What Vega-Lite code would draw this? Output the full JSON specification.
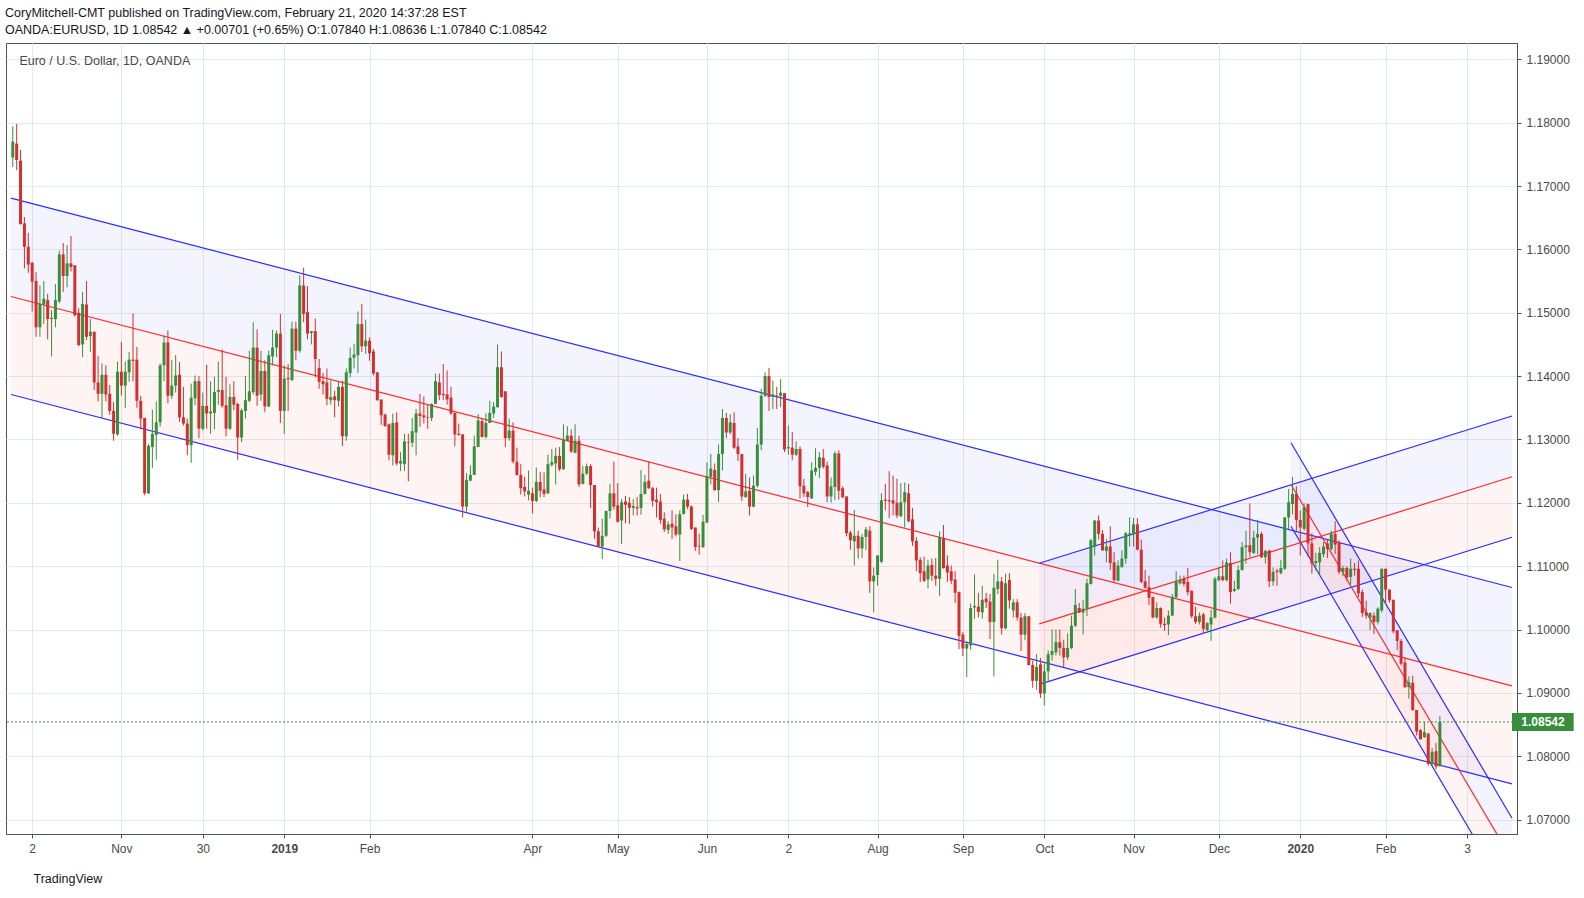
{
  "$schema": "https://vega.github.io/schema/vega-lite/v6.json",
  "width": 1511,
  "height": 791,
  "autosize": "none",
  "padding": {"left": 6, "top": 43, "right": 67, "bottom": 64},
  "background": "white",
  "title": {
    "text": "CoryMitchell-CMT published on TradingView.com, February 21, 2020 14:37:28 EST",
    "subtitle": "OANDA:EURUSD, 1D  1.08542 ▲ +0.00701 (+0.65%)  O:1.07840  H:1.08636  L:1.07840  C:1.08542",
    "anchor": "start",
    "frame": "group",
    "font": "Liberation Sans",
    "fontSize": 12.5,
    "fontWeight": "normal",
    "color": "#131722",
    "subtitleFont": "Liberation Sans",
    "subtitleFontSize": 12.5,
    "subtitleColor": "#131722",
    "subtitlePadding": 4,
    "offset": 7,
    "dx": -1
  },
  "datasets": {
    "candles": [
      {"i":0,"o":1.1745,"h":1.1794,"l":1.1730,"c":1.1770},
      {"i":1,"o":1.1767,"h":1.1798,"l":1.1725,"c":1.1741},
      {"i":2,"o":1.1740,"h":1.1757,"l":1.1639,"c":1.1640},
      {"i":3,"o":1.1641,"h":1.1651,"l":1.1570,"c":1.1604},
      {"i":4,"o":1.1604,"h":1.1626,"l":1.1563,"c":1.1576},
      {"i":5,"o":1.1579,"h":1.1580,"l":1.1502,"c":1.1549},
      {"i":6,"o":1.1550,"h":1.1564,"l":1.1462,"c":1.1477},
      {"i":7,"o":1.1477,"h":1.1543,"l":1.1462,"c":1.1514},
      {"i":8,"o":1.1513,"h":1.1550,"l":1.1482,"c":1.1522},
      {"i":9,"o":1.1520,"h":1.1530,"l":1.1458,"c":1.1490},
      {"i":10,"o":1.1490,"h":1.1504,"l":1.1431,"c":1.1492},
      {"i":11,"o":1.1490,"h":1.1545,"l":1.1477,"c":1.1520},
      {"i":12,"o":1.1518,"h":1.1598,"l":1.1515,"c":1.1592},
      {"i":13,"o":1.1592,"h":1.1610,"l":1.1533,"c":1.1558},
      {"i":14,"o":1.1558,"h":1.1607,"l":1.1540,"c":1.1578},
      {"i":15,"o":1.1578,"h":1.1621,"l":1.1565,"c":1.1572},
      {"i":16,"o":1.1575,"h":1.1575,"l":1.1494,"c":1.1496},
      {"i":17,"o":1.1500,"h":1.1507,"l":1.1447,"c":1.1449},
      {"i":18,"o":1.1450,"h":1.1533,"l":1.1430,"c":1.1514},
      {"i":19,"o":1.1513,"h":1.1550,"l":1.1457,"c":1.1462},
      {"i":20,"o":1.1463,"h":1.1490,"l":1.1438,"c":1.1470},
      {"i":21,"o":1.1470,"h":1.1470,"l":1.1378,"c":1.1390},
      {"i":22,"o":1.1390,"h":1.1432,"l":1.1360,"c":1.1372},
      {"i":23,"o":1.1372,"h":1.1420,"l":1.1334,"c":1.1402},
      {"i":24,"o":1.1402,"h":1.1417,"l":1.1360,"c":1.1371},
      {"i":25,"o":1.1372,"h":1.1386,"l":1.1339,"c":1.1345},
      {"i":26,"o":1.1345,"h":1.1359,"l":1.1298,"c":1.1309},
      {"i":27,"o":1.1308,"h":1.1423,"l":1.1306,"c":1.1407},
      {"i":28,"o":1.1407,"h":1.1454,"l":1.1369,"c":1.1385},
      {"i":29,"o":1.1385,"h":1.1423,"l":1.1350,"c":1.1407},
      {"i":30,"o":1.1406,"h":1.1438,"l":1.1391,"c":1.1426},
      {"i":31,"o":1.1426,"h":1.1499,"l":1.1392,"c":1.1424},
      {"i":32,"o":1.1426,"h":1.1446,"l":1.1350,"c":1.1361},
      {"i":33,"o":1.1361,"h":1.1369,"l":1.1316,"c":1.1333},
      {"i":34,"o":1.1334,"h":1.1334,"l":1.1212,"c":1.1215},
      {"i":35,"o":1.1215,"h":1.1293,"l":1.1214,"c":1.1290},
      {"i":36,"o":1.1288,"h":1.1347,"l":1.1255,"c":1.1309},
      {"i":37,"o":1.1307,"h":1.1360,"l":1.1268,"c":1.1327},
      {"i":38,"o":1.1327,"h":1.1420,"l":1.1320,"c":1.1417},
      {"i":39,"o":1.1417,"h":1.1464,"l":1.1392,"c":1.1453},
      {"i":40,"o":1.1453,"h":1.1472,"l":1.1357,"c":1.1369},
      {"i":41,"o":1.1369,"h":1.1425,"l":1.1364,"c":1.1385},
      {"i":42,"o":1.1385,"h":1.1433,"l":1.1374,"c":1.1401},
      {"i":43,"o":1.1402,"h":1.1422,"l":1.1328,"c":1.1335},
      {"i":44,"o":1.1335,"h":1.1383,"l":1.1322,"c":1.1325},
      {"i":45,"o":1.1325,"h":1.1333,"l":1.1275,"c":1.1291},
      {"i":46,"o":1.1291,"h":1.1388,"l":1.1263,"c":1.1366},
      {"i":47,"o":1.1365,"h":1.1401,"l":1.1354,"c":1.1392},
      {"i":48,"o":1.1392,"h":1.1400,"l":1.1302,"c":1.1317},
      {"i":49,"o":1.1317,"h":1.1374,"l":1.1314,"c":1.1353},
      {"i":50,"o":1.1353,"h":1.1418,"l":1.1317,"c":1.1341},
      {"i":51,"o":1.1341,"h":1.1392,"l":1.1309,"c":1.1344},
      {"i":52,"o":1.1342,"h":1.1399,"l":1.1316,"c":1.1375},
      {"i":53,"o":1.1375,"h":1.1423,"l":1.1355,"c":1.1378},
      {"i":54,"o":1.1378,"h":1.1442,"l":1.1350,"c":1.1353},
      {"i":55,"o":1.1354,"h":1.1399,"l":1.1305,"c":1.1317},
      {"i":56,"o":1.1317,"h":1.1387,"l":1.1315,"c":1.1367},
      {"i":57,"o":1.1367,"h":1.1392,"l":1.1346,"c":1.1355},
      {"i":58,"o":1.1356,"h":1.1358,"l":1.1268,"c":1.1303},
      {"i":59,"o":1.1303,"h":1.1349,"l":1.1296,"c":1.1346},
      {"i":60,"o":1.1345,"h":1.1400,"l":1.1333,"c":1.1362},
      {"i":61,"o":1.1361,"h":1.1440,"l":1.1359,"c":1.1376},
      {"i":62,"o":1.1375,"h":1.1485,"l":1.1371,"c":1.1445},
      {"i":63,"o":1.1445,"h":1.1474,"l":1.1353,"c":1.1369},
      {"i":64,"o":1.1371,"h":1.1440,"l":1.1361,"c":1.1408},
      {"i":65,"o":1.1408,"h":1.1425,"l":1.1343,"c":1.1352},
      {"i":66,"o":1.1352,"h":1.1440,"l":1.1351,"c":1.1433},
      {"i":67,"o":1.1431,"h":1.1473,"l":1.1417,"c":1.1445},
      {"i":68,"o":1.1445,"h":1.1472,"l":1.1430,"c":1.1467},
      {"i":69,"o":1.1467,"h":1.1498,"l":1.1326,"c":1.1345},
      {"i":70,"o":1.1345,"h":1.1417,"l":1.1309,"c":1.1396},
      {"i":71,"o":1.1397,"h":1.1419,"l":1.1345,"c":1.1395},
      {"i":72,"o":1.1394,"h":1.1486,"l":1.1392,"c":1.1475},
      {"i":73,"o":1.1475,"h":1.1486,"l":1.1425,"c":1.1440},
      {"i":74,"o":1.1440,"h":1.1559,"l":1.1437,"c":1.1543},
      {"i":75,"o":1.1543,"h":1.1571,"l":1.1485,"c":1.1498},
      {"i":76,"o":1.1501,"h":1.1542,"l":1.1458,"c":1.1467},
      {"i":77,"o":1.1468,"h":1.1471,"l":1.1450,"c":1.1471},
      {"i":78,"o":1.1471,"h":1.1491,"l":1.1398,"c":1.1427},
      {"i":79,"o":1.1413,"h":1.1427,"l":1.1380,"c":1.1391},
      {"i":80,"o":1.1392,"h":1.1405,"l":1.1371,"c":1.1387},
      {"i":81,"o":1.1390,"h":1.1412,"l":1.1354,"c":1.1364},
      {"i":82,"o":1.1362,"h":1.1393,"l":1.1355,"c":1.1367},
      {"i":83,"o":1.1368,"h":1.1377,"l":1.1335,"c":1.1362},
      {"i":84,"o":1.1361,"h":1.1391,"l":1.1352,"c":1.1383},
      {"i":85,"o":1.1383,"h":1.1393,"l":1.1289,"c":1.1305},
      {"i":86,"o":1.1305,"h":1.1412,"l":1.1298,"c":1.1406},
      {"i":87,"o":1.1405,"h":1.1445,"l":1.1398,"c":1.1429},
      {"i":88,"o":1.1429,"h":1.1451,"l":1.1412,"c":1.1434},
      {"i":89,"o":1.1433,"h":1.1502,"l":1.1405,"c":1.1482},
      {"i":90,"o":1.1482,"h":1.1514,"l":1.1438,"c":1.1447},
      {"i":91,"o":1.1447,"h":1.1489,"l":1.1435,"c":1.1456},
      {"i":92,"o":1.1456,"h":1.1461,"l":1.1424,"c":1.1436},
      {"i":93,"o":1.1439,"h":1.1443,"l":1.1401,"c":1.1404},
      {"i":94,"o":1.1406,"h":1.1406,"l":1.1361,"c":1.1362},
      {"i":95,"o":1.1363,"h":1.1363,"l":1.1323,"c":1.1338},
      {"i":96,"o":1.1339,"h":1.1341,"l":1.1320,"c":1.1321},
      {"i":97,"o":1.1324,"h":1.1325,"l":1.1267,"c":1.1276},
      {"i":98,"o":1.1275,"h":1.1341,"l":1.1259,"c":1.1326},
      {"i":99,"o":1.1327,"h":1.1343,"l":1.1259,"c":1.1262},
      {"i":100,"o":1.1262,"h":1.1280,"l":1.1250,"c":1.1266},
      {"i":101,"o":1.1261,"h":1.1309,"l":1.1250,"c":1.1297},
      {"i":102,"o":1.1296,"h":1.1309,"l":1.1234,"c":1.1295},
      {"i":103,"o":1.1295,"h":1.1334,"l":1.1288,"c":1.1313},
      {"i":104,"o":1.1311,"h":1.1348,"l":1.1275,"c":1.1341},
      {"i":105,"o":1.1341,"h":1.1372,"l":1.1320,"c":1.1337},
      {"i":106,"o":1.1338,"h":1.1368,"l":1.1325,"c":1.1335},
      {"i":107,"o":1.1335,"h":1.1356,"l":1.1317,"c":1.1334},
      {"i":108,"o":1.1334,"h":1.1357,"l":1.1329,"c":1.1356},
      {"i":109,"o":1.1356,"h":1.1404,"l":1.1356,"c":1.1392},
      {"i":110,"o":1.1390,"h":1.1404,"l":1.1362,"c":1.1370},
      {"i":111,"o":1.1372,"h":1.1419,"l":1.1362,"c":1.1370},
      {"i":112,"o":1.1371,"h":1.1409,"l":1.1355,"c":1.1363},
      {"i":113,"o":1.1366,"h":1.1383,"l":1.1339,"c":1.1341},
      {"i":114,"o":1.1342,"h":1.1342,"l":1.1289,"c":1.1308},
      {"i":115,"o":1.1309,"h":1.1325,"l":1.1306,"c":1.1307},
      {"i":116,"o":1.1308,"h":1.1308,"l":1.1177,"c":1.1194},
      {"i":117,"o":1.1194,"h":1.1247,"l":1.1186,"c":1.1236},
      {"i":118,"o":1.1235,"h":1.1259,"l":1.1234,"c":1.1244},
      {"i":119,"o":1.1244,"h":1.1306,"l":1.1244,"c":1.1289},
      {"i":120,"o":1.1288,"h":1.1340,"l":1.1288,"c":1.1330},
      {"i":121,"o":1.1329,"h":1.1333,"l":1.1303,"c":1.1304},
      {"i":122,"o":1.1304,"h":1.1341,"l":1.1301,"c":1.1326},
      {"i":123,"o":1.1326,"h":1.1361,"l":1.1326,"c":1.1342},
      {"i":124,"o":1.1341,"h":1.1359,"l":1.1334,"c":1.1352},
      {"i":125,"o":1.1351,"h":1.1450,"l":1.1350,"c":1.1414},
      {"i":126,"o":1.1414,"h":1.1439,"l":1.1366,"c":1.1367},
      {"i":127,"o":1.1376,"h":1.1376,"l":1.1288,"c":1.1302},
      {"i":128,"o":1.1302,"h":1.1333,"l":1.1298,"c":1.1314},
      {"i":129,"o":1.1314,"h":1.1327,"l":1.1262,"c":1.1265},
      {"i":130,"o":1.1265,"h":1.1287,"l":1.1243,"c":1.1244},
      {"i":131,"o":1.1244,"h":1.1261,"l":1.1213,"c":1.1223},
      {"i":132,"o":1.1225,"h":1.1241,"l":1.1210,"c":1.1218},
      {"i":133,"o":1.1213,"h":1.1251,"l":1.1204,"c":1.1219},
      {"i":134,"o":1.1215,"h":1.1224,"l":1.1183,"c":1.1203},
      {"i":135,"o":1.1203,"h":1.1256,"l":1.1201,"c":1.1233},
      {"i":136,"o":1.1233,"h":1.1249,"l":1.1209,"c":1.1219},
      {"i":137,"o":1.1221,"h":1.1248,"l":1.1209,"c":1.1214},
      {"i":138,"o":1.1215,"h":1.1276,"l":1.1214,"c":1.1261},
      {"i":139,"o":1.1260,"h":1.1285,"l":1.1257,"c":1.1264},
      {"i":140,"o":1.1262,"h":1.1287,"l":1.1229,"c":1.1274},
      {"i":141,"o":1.1274,"h":1.1288,"l":1.1250,"c":1.1253},
      {"i":142,"o":1.1253,"h":1.1324,"l":1.1252,"c":1.1299},
      {"i":143,"o":1.1298,"h":1.1321,"l":1.1297,"c":1.1306},
      {"i":144,"o":1.1306,"h":1.1316,"l":1.1279,"c":1.1281},
      {"i":145,"o":1.1279,"h":1.1324,"l":1.1278,"c":1.1298},
      {"i":146,"o":1.1298,"h":1.1306,"l":1.1225,"c":1.1229},
      {"i":147,"o":1.1230,"h":1.1258,"l":1.1229,"c":1.1246},
      {"i":148,"o":1.1246,"h":1.1262,"l":1.1244,"c":1.1258},
      {"i":149,"o":1.1258,"h":1.1261,"l":1.1192,"c":1.1228},
      {"i":150,"o":1.1228,"h":1.1228,"l":1.1143,"c":1.1155},
      {"i":151,"o":1.1155,"h":1.1161,"l":1.1130,"c":1.1131},
      {"i":152,"o":1.1131,"h":1.1175,"l":1.1111,"c":1.1148},
      {"i":153,"o":1.1148,"h":1.1188,"l":1.1146,"c":1.1187},
      {"i":154,"o":1.1187,"h":1.1230,"l":1.1175,"c":1.1215},
      {"i":155,"o":1.1215,"h":1.1265,"l":1.1189,"c":1.1194},
      {"i":156,"o":1.1196,"h":1.1231,"l":1.1169,"c":1.1170},
      {"i":157,"o":1.1172,"h":1.1206,"l":1.1135,"c":1.1201},
      {"i":158,"o":1.1202,"h":1.1211,"l":1.1168,"c":1.1197},
      {"i":159,"o":1.1200,"h":1.1209,"l":1.1167,"c":1.1192},
      {"i":160,"o":1.1192,"h":1.1206,"l":1.1180,"c":1.1195},
      {"i":161,"o":1.1193,"h":1.1209,"l":1.1180,"c":1.1191},
      {"i":162,"o":1.1192,"h":1.1252,"l":1.1181,"c":1.1214},
      {"i":163,"o":1.1214,"h":1.1244,"l":1.1213,"c":1.1233},
      {"i":164,"o":1.1235,"h":1.1265,"l":1.1222,"c":1.1223},
      {"i":165,"o":1.1223,"h":1.1225,"l":1.1194,"c":1.1203},
      {"i":166,"o":1.1205,"h":1.1224,"l":1.1177,"c":1.1201},
      {"i":167,"o":1.1202,"h":1.1214,"l":1.1167,"c":1.1173},
      {"i":168,"o":1.1175,"h":1.1185,"l":1.1154,"c":1.1158},
      {"i":169,"o":1.1157,"h":1.1171,"l":1.1151,"c":1.1166},
      {"i":170,"o":1.1167,"h":1.1188,"l":1.1143,"c":1.1161},
      {"i":171,"o":1.1163,"h":1.1182,"l":1.1147,"c":1.1150},
      {"i":172,"o":1.1150,"h":1.1188,"l":1.1108,"c":1.1182},
      {"i":173,"o":1.1182,"h":1.1213,"l":1.1182,"c":1.1205},
      {"i":174,"o":1.1205,"h":1.1214,"l":1.1190,"c":1.1194},
      {"i":175,"o":1.1194,"h":1.1196,"l":1.1157,"c":1.1159},
      {"i":176,"o":1.1161,"h":1.1161,"l":1.1124,"c":1.1130},
      {"i":177,"o":1.1132,"h":1.1151,"l":1.1118,"c":1.1131},
      {"i":178,"o":1.1130,"h":1.1181,"l":1.1129,"c":1.1170},
      {"i":179,"o":1.1169,"h":1.1264,"l":1.1168,"c":1.1242},
      {"i":180,"o":1.1241,"h":1.1277,"l":1.1229,"c":1.1254},
      {"i":181,"o":1.1252,"h":1.1262,"l":1.1219,"c":1.1220},
      {"i":182,"o":1.1220,"h":1.1292,"l":1.1201,"c":1.1277},
      {"i":183,"o":1.1277,"h":1.1348,"l":1.1251,"c":1.1334},
      {"i":184,"o":1.1334,"h":1.1342,"l":1.1302,"c":1.1311},
      {"i":185,"o":1.1311,"h":1.1340,"l":1.1308,"c":1.1327},
      {"i":186,"o":1.1326,"h":1.1343,"l":1.1285,"c":1.1287},
      {"i":187,"o":1.1289,"h":1.1302,"l":1.1266,"c":1.1277},
      {"i":188,"o":1.1277,"h":1.1277,"l":1.1203,"c":1.1210},
      {"i":189,"o":1.1209,"h":1.1246,"l":1.1208,"c":1.1218},
      {"i":190,"o":1.1219,"h":1.1240,"l":1.1180,"c":1.1194},
      {"i":191,"o":1.1194,"h":1.1243,"l":1.1193,"c":1.1227},
      {"i":192,"o":1.1227,"h":1.1318,"l":1.1224,"c":1.1292},
      {"i":193,"o":1.1292,"h":1.1380,"l":1.1283,"c":1.1369},
      {"i":194,"o":1.1369,"h":1.1406,"l":1.1367,"c":1.1400},
      {"i":195,"o":1.1400,"h":1.1413,"l":1.1345,"c":1.1367},
      {"i":196,"o":1.1367,"h":1.1393,"l":1.1348,"c":1.1371},
      {"i":197,"o":1.1369,"h":1.1383,"l":1.1348,"c":1.1368},
      {"i":198,"o":1.1369,"h":1.1395,"l":1.1351,"c":1.1374},
      {"i":199,"o":1.1373,"h":1.1373,"l":1.1280,"c":1.1284},
      {"i":200,"o":1.1286,"h":1.1322,"l":1.1276,"c":1.1288},
      {"i":201,"o":1.1287,"h":1.1312,"l":1.1267,"c":1.1276},
      {"i":202,"o":1.1276,"h":1.1297,"l":1.1274,"c":1.1285},
      {"i":203,"o":1.1285,"h":1.1289,"l":1.1207,"c":1.1226},
      {"i":204,"o":1.1227,"h":1.1238,"l":1.1209,"c":1.1215},
      {"i":205,"o":1.1217,"h":1.1219,"l":1.1193,"c":1.1209},
      {"i":206,"o":1.1207,"h":1.1264,"l":1.1206,"c":1.1251},
      {"i":207,"o":1.1249,"h":1.1286,"l":1.1243,"c":1.1255},
      {"i":208,"o":1.1255,"h":1.1280,"l":1.1239,"c":1.1272},
      {"i":209,"o":1.1271,"h":1.1285,"l":1.1254,"c":1.1257},
      {"i":210,"o":1.1259,"h":1.1265,"l":1.1201,"c":1.1210},
      {"i":211,"o":1.1210,"h":1.1240,"l":1.1200,"c":1.1226},
      {"i":212,"o":1.1225,"h":1.1281,"l":1.1204,"c":1.1278},
      {"i":213,"o":1.1278,"h":1.1283,"l":1.1205,"c":1.1219},
      {"i":214,"o":1.1223,"h":1.1226,"l":1.1207,"c":1.1209},
      {"i":215,"o":1.1210,"h":1.1210,"l":1.1147,"c":1.1152},
      {"i":216,"o":1.1153,"h":1.1156,"l":1.1126,"c":1.1141},
      {"i":217,"o":1.1139,"h":1.1189,"l":1.1101,"c":1.1148},
      {"i":218,"o":1.1148,"h":1.1156,"l":1.1112,"c":1.1128},
      {"i":219,"o":1.1128,"h":1.1151,"l":1.1113,"c":1.1146},
      {"i":220,"o":1.1146,"h":1.1162,"l":1.1125,"c":1.1158},
      {"i":221,"o":1.1156,"h":1.1163,"l":1.1058,"c":1.1076},
      {"i":222,"o":1.1076,"h":1.1098,"l":1.1027,"c":1.1085},
      {"i":223,"o":1.1086,"h":1.1117,"l":1.1069,"c":1.1117},
      {"i":224,"o":1.1107,"h":1.1215,"l":1.1105,"c":1.1204},
      {"i":225,"o":1.1205,"h":1.1230,"l":1.1188,"c":1.1203},
      {"i":226,"o":1.1204,"h":1.1250,"l":1.1176,"c":1.1202},
      {"i":227,"o":1.1204,"h":1.1243,"l":1.1180,"c":1.1199},
      {"i":228,"o":1.1200,"h":1.1238,"l":1.1176,"c":1.1180},
      {"i":229,"o":1.1179,"h":1.1231,"l":1.1177,"c":1.1201},
      {"i":230,"o":1.1201,"h":1.1232,"l":1.1161,"c":1.1217},
      {"i":231,"o":1.1215,"h":1.1230,"l":1.1169,"c":1.1171},
      {"i":232,"o":1.1174,"h":1.1192,"l":1.1132,"c":1.1139},
      {"i":233,"o":1.1140,"h":1.1146,"l":1.1092,"c":1.1109},
      {"i":234,"o":1.1110,"h":1.1114,"l":1.1075,"c":1.1089},
      {"i":235,"o":1.1092,"h":1.1115,"l":1.1075,"c":1.1077},
      {"i":236,"o":1.1079,"h":1.1110,"l":1.1065,"c":1.1101},
      {"i":237,"o":1.1102,"h":1.1112,"l":1.1077,"c":1.1085},
      {"i":238,"o":1.1085,"h":1.1113,"l":1.1069,"c":1.1080},
      {"i":239,"o":1.1080,"h":1.1155,"l":1.1053,"c":1.1145},
      {"i":240,"o":1.1144,"h":1.1165,"l":1.1096,"c":1.1097},
      {"i":241,"o":1.1101,"h":1.1117,"l":1.1075,"c":1.1090},
      {"i":242,"o":1.1092,"h":1.1101,"l":1.1072,"c":1.1077},
      {"i":243,"o":1.1079,"h":1.1092,"l":1.1042,"c":1.1058},
      {"i":244,"o":1.1059,"h":1.1060,"l":1.0969,"c":1.0990},
      {"i":245,"o":1.0992,"h":1.0996,"l":1.0958,"c":1.0970},
      {"i":246,"o":1.0970,"h":1.0979,"l":1.0925,"c":1.0977},
      {"i":247,"o":1.0975,"h":1.1041,"l":1.0968,"c":1.1034},
      {"i":248,"o":1.1035,"h":1.1087,"l":1.1017,"c":1.1037},
      {"i":249,"o":1.1036,"h":1.1058,"l":1.1019,"c":1.1028},
      {"i":250,"o":1.1027,"h":1.1069,"l":1.1017,"c":1.1047},
      {"i":251,"o":1.1049,"h":1.1058,"l":1.1034,"c":1.1043},
      {"i":252,"o":1.1044,"h":1.1056,"l":1.0985,"c":1.1012},
      {"i":253,"o":1.1012,"h":1.1088,"l":1.0926,"c":1.1066},
      {"i":254,"o":1.1064,"h":1.1110,"l":1.1056,"c":1.1076},
      {"i":255,"o":1.1076,"h":1.1083,"l":1.0992,"c":1.1002},
      {"i":256,"o":1.1002,"h":1.1088,"l":1.1000,"c":1.1073},
      {"i":257,"o":1.1078,"h":1.1089,"l":1.1033,"c":1.1046},
      {"i":258,"o":1.1030,"h":1.1048,"l":1.1019,"c":1.1043},
      {"i":259,"o":1.1043,"h":1.1048,"l":1.1014,"c":1.1019},
      {"i":260,"o":1.1019,"h":1.1026,"l":1.0966,"c":1.0992},
      {"i":261,"o":1.0992,"h":1.1026,"l":1.0983,"c":1.1021},
      {"i":262,"o":1.1021,"h":1.1021,"l":1.0943,"c":1.0944},
      {"i":263,"o":1.0944,"h":1.0951,"l":1.0908,"c":1.0919},
      {"i":264,"o":1.0919,"h":1.0961,"l":1.0905,"c":1.0941},
      {"i":265,"o":1.0945,"h":1.0955,"l":1.0892,"c":1.0899},
      {"i":266,"o":1.0899,"h":1.0946,"l":1.0880,"c":1.0934},
      {"i":267,"o":1.0934,"h":1.0967,"l":1.0919,"c":1.0961},
      {"i":268,"o":1.0960,"h":1.1000,"l":1.0951,"c":1.0966},
      {"i":269,"o":1.0964,"h":1.1000,"l":1.0959,"c":1.0980},
      {"i":270,"o":1.0980,"h":1.1000,"l":1.0959,"c":1.0971},
      {"i":271,"o":1.0971,"h":1.0984,"l":1.0941,"c":1.0956},
      {"i":272,"o":1.0956,"h":1.0994,"l":1.0952,"c":1.0971},
      {"i":273,"o":1.0971,"h":1.1022,"l":1.0969,"c":1.1006},
      {"i":274,"o":1.1006,"h":1.1064,"l":1.1004,"c":1.1039},
      {"i":275,"o":1.1034,"h":1.1042,"l":1.1026,"c":1.1027},
      {"i":276,"o":1.1027,"h":1.1047,"l":1.0992,"c":1.1033},
      {"i":277,"o":1.1033,"h":1.1080,"l":1.1021,"c":1.1073},
      {"i":278,"o":1.1072,"h":1.1143,"l":1.1071,"c":1.1141},
      {"i":279,"o":1.1131,"h":1.1173,"l":1.1117,"c":1.1172},
      {"i":280,"o":1.1172,"h":1.1180,"l":1.1142,"c":1.1151},
      {"i":281,"o":1.1151,"h":1.1157,"l":1.1124,"c":1.1125},
      {"i":282,"o":1.1124,"h":1.1143,"l":1.1106,"c":1.1131},
      {"i":283,"o":1.1131,"h":1.1163,"l":1.1094,"c":1.1105},
      {"i":284,"o":1.1106,"h":1.1122,"l":1.1075,"c":1.1078},
      {"i":285,"o":1.1077,"h":1.1109,"l":1.1076,"c":1.1101},
      {"i":286,"o":1.1099,"h":1.1125,"l":1.1097,"c":1.1112},
      {"i":287,"o":1.1112,"h":1.1154,"l":1.1104,"c":1.1152},
      {"i":288,"o":1.1150,"h":1.1177,"l":1.1131,"c":1.1152},
      {"i":289,"o":1.1151,"h":1.1176,"l":1.1131,"c":1.1166},
      {"i":290,"o":1.1166,"h":1.1176,"l":1.1125,"c":1.1126},
      {"i":291,"o":1.1126,"h":1.1142,"l":1.1073,"c":1.1075},
      {"i":292,"o":1.1076,"h":1.1094,"l":1.1064,"c":1.1066},
      {"i":293,"o":1.1067,"h":1.1085,"l":1.1039,"c":1.1050},
      {"i":294,"o":1.1051,"h":1.1052,"l":1.1018,"c":1.1019},
      {"i":295,"o":1.1019,"h":1.1043,"l":1.1017,"c":1.1034},
      {"i":296,"o":1.1034,"h":1.1035,"l":1.1003,"c":1.1009},
      {"i":297,"o":1.1009,"h":1.1019,"l":1.0998,"c":1.1007},
      {"i":298,"o":1.1008,"h":1.1030,"l":1.0991,"c":1.1022},
      {"i":299,"o":1.1022,"h":1.1056,"l":1.1021,"c":1.1051},
      {"i":300,"o":1.1051,"h":1.1092,"l":1.1050,"c":1.1075},
      {"i":301,"o":1.1073,"h":1.1085,"l":1.1071,"c":1.1078},
      {"i":302,"o":1.1080,"h":1.1085,"l":1.1068,"c":1.1072},
      {"i":303,"o":1.1075,"h":1.1097,"l":1.1054,"c":1.1059},
      {"i":304,"o":1.1061,"h":1.1062,"l":1.1018,"c":1.1021},
      {"i":305,"o":1.1021,"h":1.1036,"l":1.1009,"c":1.1012},
      {"i":306,"o":1.1012,"h":1.1027,"l":1.1008,"c":1.1022},
      {"i":307,"o":1.1024,"h":1.1026,"l":1.0993,"c":1.1001},
      {"i":308,"o":1.0999,"h":1.1012,"l":1.0998,"c":1.1010},
      {"i":309,"o":1.1008,"h":1.1031,"l":1.0982,"c":1.1019},
      {"i":310,"o":1.1019,"h":1.1083,"l":1.1017,"c":1.1080},
      {"i":311,"o":1.1078,"h":1.1099,"l":1.1076,"c":1.1084},
      {"i":312,"o":1.1084,"h":1.1109,"l":1.1076,"c":1.1078},
      {"i":313,"o":1.1078,"h":1.1112,"l":1.1076,"c":1.1106},
      {"i":314,"o":1.1105,"h":1.1122,"l":1.1041,"c":1.1059},
      {"i":315,"o":1.1061,"h":1.1077,"l":1.1059,"c":1.1064},
      {"i":316,"o":1.1064,"h":1.1101,"l":1.1062,"c":1.1094},
      {"i":317,"o":1.1094,"h":1.1138,"l":1.1093,"c":1.1130},
      {"i":318,"o":1.1130,"h":1.1156,"l":1.1104,"c":1.1133},
      {"i":319,"o":1.1133,"h":1.1199,"l":1.1114,"c":1.1122},
      {"i":320,"o":1.1121,"h":1.1156,"l":1.1119,"c":1.1145},
      {"i":321,"o":1.1145,"h":1.1173,"l":1.1119,"c":1.1151},
      {"i":322,"o":1.1151,"h":1.1154,"l":1.1113,"c":1.1114},
      {"i":323,"o":1.1114,"h":1.1126,"l":1.1104,"c":1.1124},
      {"i":324,"o":1.1125,"h":1.1125,"l":1.1067,"c":1.1076},
      {"i":325,"o":1.1076,"h":1.1098,"l":1.1069,"c":1.1091},
      {"i":326,"o":1.1093,"h":1.1096,"l":1.1069,"c":1.1091},
      {"i":327,"o":1.1089,"h":1.1110,"l":1.1087,"c":1.1097},
      {"i":328,"o":1.1096,"h":1.1177,"l":1.1094,"c":1.1177},
      {"i":329,"o":1.1177,"h":1.1222,"l":1.1159,"c":1.1201},
      {"i":330,"o":1.1198,"h":1.1241,"l":1.1182,"c":1.1214},
      {"i":331,"o":1.1214,"h":1.1226,"l":1.1156,"c":1.1173},
      {"i":332,"o":1.1173,"h":1.1188,"l":1.1117,"c":1.1161},
      {"i":333,"o":1.1159,"h":1.1199,"l":1.1156,"c":1.1193},
      {"i":334,"o":1.1198,"h":1.1199,"l":1.1115,"c":1.1136},
      {"i":335,"o":1.1136,"h":1.1152,"l":1.1088,"c":1.1104},
      {"i":336,"o":1.1105,"h":1.1121,"l":1.1093,"c":1.1108},
      {"i":337,"o":1.1106,"h":1.1130,"l":1.1087,"c":1.1121},
      {"i":338,"o":1.1119,"h":1.1138,"l":1.1114,"c":1.1131},
      {"i":339,"o":1.1136,"h":1.1142,"l":1.1113,"c":1.1127},
      {"i":340,"o":1.1127,"h":1.1156,"l":1.1125,"c":1.1151},
      {"i":341,"o":1.1151,"h":1.1171,"l":1.1119,"c":1.1134},
      {"i":342,"o":1.1138,"h":1.1141,"l":1.1087,"c":1.1091},
      {"i":343,"o":1.1091,"h":1.1101,"l":1.1084,"c":1.1097},
      {"i":344,"o":1.1097,"h":1.1100,"l":1.1077,"c":1.1082},
      {"i":345,"o":1.1083,"h":1.1112,"l":1.1071,"c":1.1096},
      {"i":346,"o":1.1096,"h":1.1105,"l":1.1085,"c":1.1094},
      {"i":347,"o":1.1096,"h":1.1109,"l":1.1051,"c":1.1057},
      {"i":348,"o":1.1059,"h":1.1063,"l":1.1020,"c":1.1026},
      {"i":349,"o":1.1027,"h":1.1046,"l":1.1017,"c":1.1022},
      {"i":350,"o":1.1019,"h":1.1027,"l":1.0999,"c":1.1026},
      {"i":351,"o":1.1022,"h":1.1027,"l":1.0993,"c":1.1012},
      {"i":352,"o":1.1012,"h":1.1035,"l":1.1008,"c":1.1033},
      {"i":353,"o":1.1030,"h":1.1096,"l":1.1027,"c":1.1096},
      {"i":354,"o":1.1096,"h":1.1096,"l":1.1040,"c":1.1063},
      {"i":355,"o":1.1063,"h":1.1063,"l":1.1042,"c":1.1046},
      {"i":356,"o":1.1047,"h":1.1047,"l":1.0994,"c":1.0997},
      {"i":357,"o":1.0999,"h":1.0999,"l":1.0967,"c":1.0982},
      {"i":358,"o":1.0982,"h":1.0985,"l":1.0943,"c":1.0946},
      {"i":359,"o":1.0948,"h":1.0956,"l":1.0908,"c":1.0909},
      {"i":360,"o":1.0909,"h":1.0926,"l":1.0891,"c":1.0917},
      {"i":361,"o":1.0916,"h":1.0927,"l":1.0872,"c":1.0873},
      {"i":362,"o":1.0873,"h":1.0873,"l":1.0833,"c":1.0839},
      {"i":363,"o":1.0841,"h":1.0843,"l":1.0826,"c":1.0827},
      {"i":364,"o":1.0830,"h":1.0854,"l":1.0829,"c":1.0838},
      {"i":365,"o":1.0836,"h":1.0836,"l":1.0785,"c":1.0788},
      {"i":366,"o":1.0788,"h":1.0813,"l":1.0785,"c":1.0807},
      {"i":367,"o":1.0808,"h":1.0821,"l":1.0780,"c":1.0784},
      {"i":368,"o":1.0784,"h":1.08636,"l":1.0784,"c":1.08542}
    ],
    "lines": [
      {"kind":"edge","x1":-0.46,"p1":1.16809,"x2":386.6,"p2":1.10664},
      {"kind":"median","x1":-0.46,"p1":1.15256,"x2":386.6,"p2":1.09111},
      {"kind":"edge","x1":-0.46,"p1":1.13709,"x2":386.6,"p2":1.07564},
      {"kind":"edge","x1":264.7,"p1":1.11046,"x2":386.6,"p2":1.1337},
      {"kind":"median","x1":264.7,"p1":1.10089,"x2":386.6,"p2":1.12412},
      {"kind":"edge","x1":264.7,"p1":1.09134,"x2":386.6,"p2":1.11456},
      {"kind":"edge","x1":329.6,"p1":1.12947,"x2":386.6,"p2":1.07021},
      {"kind":"median","x1":329.6,"p1":1.12289,"x2":386.6,"p2":1.06367},
      {"kind":"edge","x1":329.6,"p1":1.1163,"x2":386.6,"p2":1.05704}
    ],
    "bands": [
      {"band":"main_up","tone":"upper","i":-0.46,"top":1.16809,"bot":1.15256},
      {"band":"main_up","tone":"upper","i":386.6,"top":1.10664,"bot":1.09111},
      {"band":"main_lo","tone":"lower","i":-0.46,"top":1.15256,"bot":1.13709},
      {"band":"main_lo","tone":"lower","i":386.6,"top":1.09111,"bot":1.07564},
      {"band":"asc_up","tone":"upper","i":264.7,"top":1.11046,"bot":1.10089},
      {"band":"asc_up","tone":"upper","i":386.6,"top":1.1337,"bot":1.12412},
      {"band":"asc_lo","tone":"lower","i":264.7,"top":1.10089,"bot":1.09134},
      {"band":"asc_lo","tone":"lower","i":386.6,"top":1.12412,"bot":1.11456},
      {"band":"dn_up","tone":"upper","i":329.6,"top":1.12947,"bot":1.12289},
      {"band":"dn_up","tone":"upper","i":386.6,"top":1.07021,"bot":1.06367},
      {"band":"dn_lo","tone":"lower","i":329.6,"top":1.12289,"bot":1.1163},
      {"band":"dn_lo","tone":"lower","i":386.6,"top":1.06367,"bot":1.05704}
    ]
  },
  "layer": [
    {
      "data": {"name": "bands"},
      "mark": {"type": "area", "clip": true, "opacity": 0.05},
      "encoding": {
        "x": {
          "field": "i", "type": "quantitative",
          "scale": {"domain": [-0.46, 386.6], "nice": false, "zero": false},
          "axis": {
            "orient": "bottom",
            "values": [5, 28, 49, 70, 92, 134, 156, 179, 200, 223, 245, 266, 289, 311, 332, 354, 375],
            "labelExpr": "datum.value == 5 ? '2' : datum.value == 28 ? 'Nov' : datum.value == 49 ? '30' : datum.value == 70 ? '2019' : datum.value == 92 ? 'Feb' : datum.value == 134 ? 'Apr' : datum.value == 156 ? 'May' : datum.value == 179 ? 'Jun' : datum.value == 200 ? '2' : datum.value == 223 ? 'Aug' : datum.value == 245 ? 'Sep' : datum.value == 266 ? 'Oct' : datum.value == 289 ? 'Nov' : datum.value == 311 ? 'Dec' : datum.value == 332 ? '2020' : datum.value == 354 ? 'Feb' : '3'",
            "labelFontWeight": {"condition": {"test": "datum.value == 70 || datum.value == 332", "value": "bold"}, "value": "normal"},
            "grid": true,
            "gridColor": "#e1e9f0",
            "tickSize": 4,
            "tickColor": "#50535e",
            "domainColor": "#50535e",
            "labelColor": "#4a4a4a",
            "labelFont": "Liberation Sans",
            "labelFontSize": 12,
            "labelPadding": 5,
            "labelFlush": false,
            "labelOverlap": false,
            "title": "TradingView",
            "titleAnchor": "start",
            "titleAlign": "left",
            "titleBaseline": "middle",
            "titleX": 27,
            "titleY": 44,
            "titleFont": "Liberation Sans",
            "titleFontSize": 12.5,
            "titleFontWeight": "normal",
            "titleColor": "#131722"
          }
        },
        "y": {
          "field": "top", "type": "quantitative", "stack": null,
          "scale": {"domain": [1.06773, 1.19257], "nice": false, "zero": false},
          "axis": {
            "orient": "right",
            "values": [1.07, 1.075, 1.08, 1.085, 1.09, 1.095, 1.1, 1.105, 1.11, 1.115, 1.12, 1.125, 1.13, 1.135, 1.14, 1.145, 1.15, 1.155, 1.16, 1.165, 1.17, 1.175, 1.18, 1.185, 1.19],
            "format": ".5f",
            "grid": true,
            "gridColor": "#e1e9f0",
            "tickSize": 4,
            "tickColor": "#50535e",
            "domainColor": "#50535e",
            "labelColor": "#4a4a4a",
            "labelFont": "Liberation Sans",
            "labelFontSize": 12,
            "labelPadding": 5,
            "labelFlush": false,
            "labelOverlap": false,
            "title": null
          }
        },
        "y2": {"field": "bot"},
        "detail": {"field": "band"},
        "color": {
          "field": "tone", "type": "nominal",
          "scale": {"domain": ["upper", "lower"], "range": ["#2b2bff", "#ff2b2b"]},
          "legend": null
        }
      }
    },
    {
      "data": {"name": "lines"},
      "mark": {"type": "rule", "clip": true, "strokeWidth": 1.2},
      "encoding": {
        "x": {"field": "x1", "type": "quantitative", "scale": {"domain": [-0.46, 386.6], "nice": false, "zero": false}},
        "x2": {"field": "x2"},
        "y": {"field": "p1", "type": "quantitative", "scale": {"domain": [1.06773, 1.19257], "nice": false, "zero": false}},
        "y2": {"field": "p2"},
        "color": {
          "field": "kind", "type": "nominal",
          "scale": {"domain": ["edge", "median"], "range": ["#2b2bf8", "#ff3535"]},
          "legend": null
        }
      }
    },
    {
      "data": {"name": "candles"},
      "mark": {"type": "rule", "strokeWidth": 1},
      "encoding": {
        "x": {"field": "i", "type": "quantitative", "scale": {"domain": [-0.46, 386.6], "nice": false, "zero": false}},
        "y": {"field": "l", "type": "quantitative", "scale": {"domain": [1.06773, 1.19257], "nice": false, "zero": false}},
        "y2": {"field": "h"},
        "color": {"condition": {"test": "datum.c >= datum.o", "value": "#388e3c"}, "value": "#d32f2f"}
      }
    },
    {
      "data": {"name": "candles"},
      "mark": {"type": "bar", "width": 3},
      "encoding": {
        "x": {"field": "i", "type": "quantitative", "scale": {"domain": [-0.46, 386.6], "nice": false, "zero": false}},
        "y": {"field": "o", "type": "quantitative", "scale": {"domain": [1.06773, 1.19257], "nice": false, "zero": false}},
        "y2": {"field": "c"},
        "color": {"condition": {"test": "datum.c >= datum.o", "value": "#388e3c"}, "value": "#d32f2f"}
      }
    },
    {
      "data": {"values": [{}]},
      "mark": {"type": "rule", "strokeDash": [2, 2], "strokeWidth": 1, "color": "#388e3c"},
      "encoding": {
        "y": {"datum": 1.08542, "type": "quantitative", "scale": {"domain": [1.06773, 1.19257], "nice": false, "zero": false}}
      }
    },
    {
      "data": {"values": [{}]},
      "mark": {"type": "text", "align": "left", "baseline": "middle", "font": "Liberation Sans", "fontSize": 12.5, "color": "#4a4a4a", "text": "Euro / U.S. Dollar, 1D, OANDA"},
      "encoding": {
        "x": {"datum": 1.7, "type": "quantitative", "scale": {"domain": [-0.46, 386.6], "nice": false, "zero": false}},
        "y": {"datum": 1.1897, "type": "quantitative", "scale": {"domain": [1.06773, 1.19257], "nice": false, "zero": false}}
      }
    },
    {
      "data": {"values": [{}]},
      "mark": {"type": "rect", "color": "#388e3c", "clip": false},
      "encoding": {
        "x": {"datum": 386.6, "type": "quantitative", "scale": {"domain": [-0.46, 386.6], "nice": false, "zero": false}},
        "x2": {"datum": 402.5},
        "y": {"datum": 1.08684, "type": "quantitative", "scale": {"domain": [1.06773, 1.19257], "nice": false, "zero": false}},
        "y2": {"datum": 1.084}
      }
    },
    {
      "data": {"values": [{}]},
      "mark": {"type": "text", "align": "left", "baseline": "middle", "font": "Liberation Sans", "fontSize": 12, "fontWeight": "bold", "color": "white", "text": "1.08542"},
      "encoding": {
        "x": {"datum": 389.0, "type": "quantitative", "scale": {"domain": [-0.46, 386.6], "nice": false, "zero": false}},
        "y": {"datum": 1.08542, "type": "quantitative", "scale": {"domain": [1.06773, 1.19257], "nice": false, "zero": false}}
      }
    }
  ],
  "config": {
    "view": {"stroke": "#50535e", "strokeWidth": 1},
    "font": "Liberation Sans"
  }
}
